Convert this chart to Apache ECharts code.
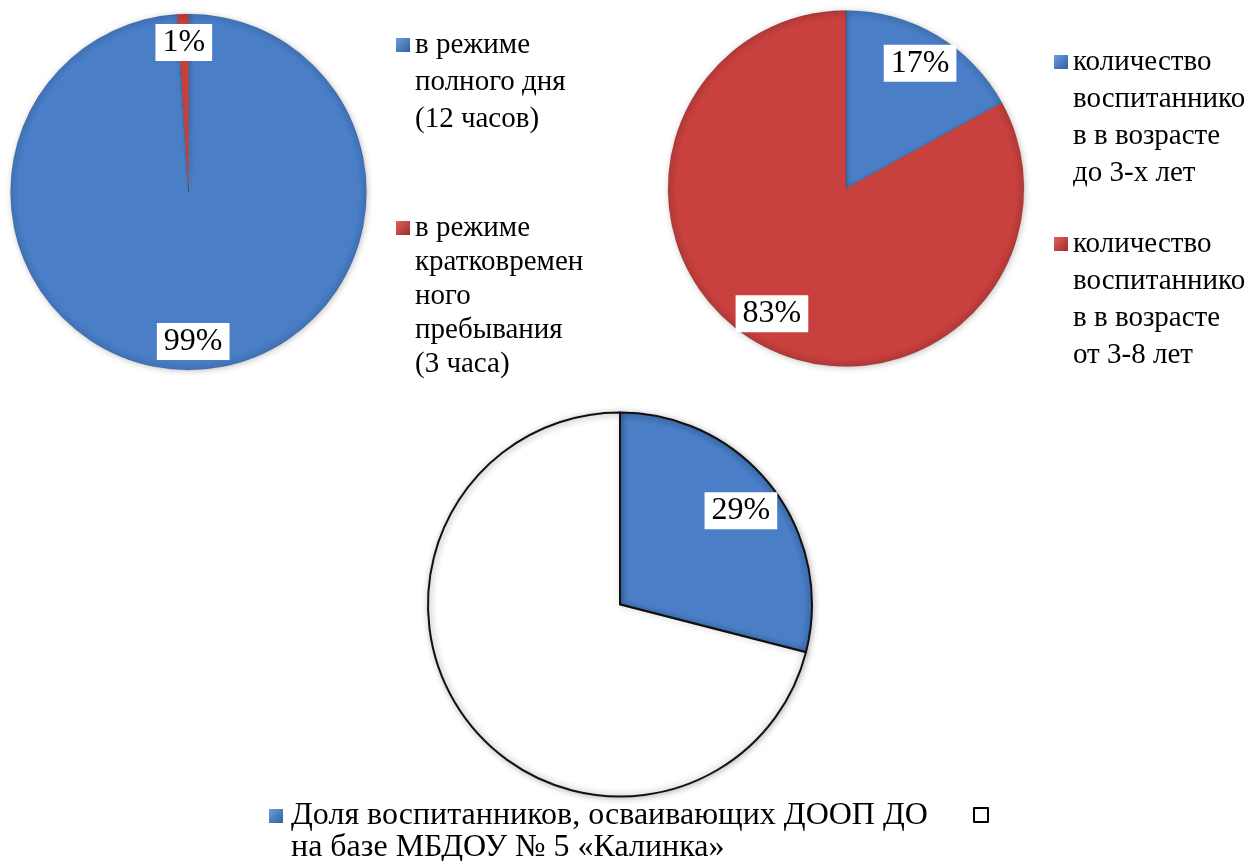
<!DOCTYPE html>
<html><head><meta charset="utf-8">
<script src="https://cdn.jsdelivr.net/npm/echarts@6/dist/echarts.min.js"></script>
<style>html,body{margin:0;padding:0;background:#fff}#c{width:1250px;height:861px}</style>
</head><body><div id="c"></div>
<script>
// ---- data ----
const pie1Categories = ['в режиме\nполного дня\n(12 часов)', 'в режиме\nкратковремен\nного\nпребывания\n(3 часа)'];
const pie1Values = [99, 1];
const pie2Categories = ['количество\nвоспитаннико\nв в возрасте\nдо 3-х лет', 'количество\nвоспитаннико\nв в возрасте\nот 3-8 лет'];
const pie2Values = [17, 83];
const pie3Categories = ['Доля воспитанников, осваивающих ДООП ДО\nна базе МБДОУ № 5 «Калинка»', ' '];
const pie3Values = [29, 71];

// ---- styles ----
const FONT = 'Liberation Serif';
const BLUE = ['#4a7fc8', '#4a7fc8', '#3e70b4'];
const RED = ['#c9413e', '#c9413e', '#b03835'];
const WHITE = ['#ffffff', '#ffffff', '#f0f0f0'];

function radial(cx, cy, r, c) {
  return {type: 'radial', x: cx, y: cy, r: r, global: true,
    colorStops: [{offset: 0, color: c[0]}, {offset: 0.95, color: c[1]}, {offset: 1, color: c[2]}]};
}

function mainPie(center, r, names, values, palettes, border) {
  return {
    type: 'pie', center: center, radius: [0, r], silent: true, animation: false,
    startAngle: 90, clockwise: true,
    label: {show: false}, labelLine: {show: false}, emphasis: {disabled: true},
    itemStyle: Object.assign({shadowBlur: 6, shadowColor: 'rgba(0,0,0,0.25)', shadowOffsetX: 1, shadowOffsetY: 1}, border),
    data: names.map((n, i) => ({name: n, value: values[i], itemStyle: {color: radial(center[0], center[1], r, palettes[i])}}))
  };
}

function labelPie(center, d, names, values, showList) {
  return {
    type: 'pie', center: center, radius: [d - 10, d + 10], silent: true, animation: false,
    startAngle: 90, clockwise: true, emphasis: {disabled: true}, tooltip: {show: false},
    itemStyle: {color: 'rgba(0,0,0,0)', borderWidth: 0},
    labelLine: {show: false},
    label: {show: true, position: 'inside', formatter: p => p.value + '%', fontFamily: FONT, fontSize: 32, lineHeight: 31,
      color: '#000', backgroundColor: '#fff', padding: [3, 7]},
    data: names.map((n, i) => ({name: n, value: values[i], label: {show: showList[i]}}))
  };
}

// legend text is centred on the icon, so blank lines are prepended to put the first line level with the icon
function legendItem(name, style, left, iconTop, lh, fontSize, padLeft) {
  const n = name.split('\n').length;
  const off = (n - 1) * lh + lh / 2 - 7;
  return {
    show: true, orient: 'vertical', left: left, top: iconTop - Math.max(0, off), padding: 0,
    itemWidth: 14, itemHeight: 14, icon: 'rect', selectedMode: false,
    formatter: nm => '\n'.repeat(n - 1) + nm,
    data: [{name: name, itemStyle: style}],
    textStyle: {fontFamily: FONT, fontSize: fontSize, lineHeight: lh, color: '#000', padding: [0, 0, 0, padLeft]}
  };
}

const blueIcon = {color: {type: 'linear', x: 0, y: 0, x2: 1, y2: 1, colorStops: [{offset: 0, color: '#6a9ee0'}, {offset: 1, color: '#2f5f9e'}]}, borderWidth: 0};
const redIcon = {color: {type: 'linear', x: 0, y: 0, x2: 1, y2: 1, colorStops: [{offset: 0, color: '#e0615c'}, {offset: 1, color: '#9e2d2a'}]}, borderWidth: 0};
const whiteIcon = {color: '#fff', borderColor: '#000', borderWidth: 2};

const c1 = [188.5, 192], c2 = [846, 188.5], c3 = [620, 604.5];

const option = {
  animation: false,
  backgroundColor: '#fff',
  legend: [
    legendItem(pie1Categories[0], blueIcon, 396, 38, 37, 29, 0),
    legendItem(pie1Categories[1], redIcon, 396, 221, 34, 29, 0),
    legendItem(pie2Categories[0], blueIcon, 1054, 55, 37, 29, 0),
    legendItem(pie2Categories[1], redIcon, 1054, 237, 37, 29, 0),
    legendItem(pie3Categories[0], blueIcon, 269, 809, 32, 32, 3),
    legendItem(pie3Categories[1], whiteIcon, 973, 807, 14, 14, 0)
  ],
  series: [
    mainPie(c1, 178, pie1Categories, pie1Values, [BLUE, RED], {borderColor: 'rgba(0,0,0,0.12)', borderWidth: 1}),
    mainPie(c2, 178, pie2Categories, pie2Values, [BLUE, RED], {borderColor: 'rgba(0,0,0,0.12)', borderWidth: 1}),
    mainPie(c3, 192, pie3Categories, pie3Values, [BLUE, WHITE], {borderColor: '#111', borderWidth: 2}),
    labelPie(c1, 146.5, pie1Categories, pie1Values, [true, true]),
    labelPie(c2, 142.5, pie2Categories, pie2Values, [true, true]),
    labelPie(c3, 150, pie3Categories, pie3Values, [true, false])
  ]
};

const chart = echarts.init(document.getElementById('c'), null, {renderer: 'canvas'});
chart.setOption(option);
</script>
</body></html>
